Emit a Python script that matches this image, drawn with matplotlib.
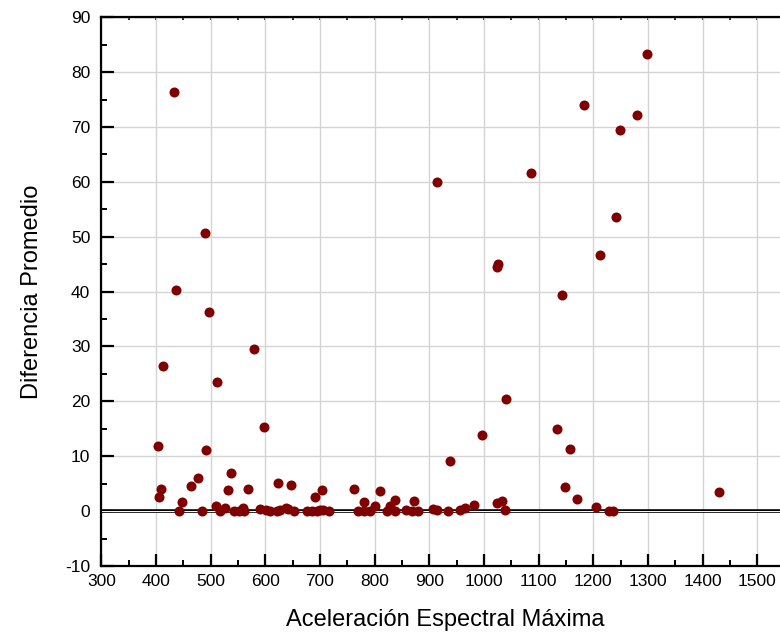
import matplotlib
matplotlib.use('Agg')
import matplotlib.pyplot as plt
from matplotlib.ticker import MultipleLocator

plt.rcParams['font.family'] = ['Liberation Sans', 'DejaVu Sans']
plt.rcParams['axes.unicode_minus'] = False

# Aceleracion espectral maxima (x) vs diferencia promedio (y)
acel = [433, 489, 437, 497, 580, 413, 512, 598, 404, 491, 537, 476, 464, 409, 405, 448,
        442, 485, 532, 568, 623, 647, 690, 704, 763, 781, 801, 810,
        510, 518, 526, 542, 551, 560, 561, 591, 602, 608, 621, 627, 638, 642, 653,
        676, 685, 694, 700, 706, 717, 770, 780, 791, 823, 829, 838, 837, 858, 872,
        868, 879, 907, 914, 935, 957, 966, 981, 915, 938, 997, 1023, 1025, 1024,
        1033, 1038, 1040, 1086, 1134, 1143, 1148, 1157, 1171, 1183, 1205, 1212,
        1228, 1236, 1241, 1248, 1280, 1298, 1430]
dif = [76.4, 50.6, 40.3, 36.2, 29.6, 26.5, 23.5, 15.3, 11.9, 11.2, 7.0, 6.0, 4.5, 4.0, 2.6, 1.7,
       0.0, 0.0, 3.9, 4.1, 5.2, 4.8, 2.6, 3.9, 4.0, 1.6, 0.9, 3.7,
       0.9, 0.05, 0.6, 0.0, 0.05, 0.55, 0.0, 0.45, 0.2, 0.0, 0.05, 0.2, 0.6, 0.4, 0.0,
       0.0, 0.0, 0.0, 0.2, 0.3, 0.0, 0.0, 0.0, 0.05, 0.0, 1.0, 2.1, 0.0, 0.25, 1.9,
       0.0, 0.0, 0.45, 0.25, 0.0, 0.3, 0.6, 1.15, 59.9, 9.1, 13.8, 44.4, 45.0, 1.55,
       1.85, 0.25, 20.5, 61.6, 14.9, 39.4, 4.45, 11.4, 2.25, 74.0, 0.75, 46.7,
       0.0, 0.0, 53.6, 69.4, 72.1, 83.2, 3.5]

fig = plt.figure(figsize=(7.8, 6.36), dpi=100)
ax = fig.add_axes([0.1299, 0.110, 0.883, 0.863])

ax.grid(True, color='#d4d4d4', lw=1.0)
ax.set_axisbelow(True)
ax.axhline(0, color='black', lw=2.6, zorder=1.5)
ax.axhline(0, color='white', lw=0.7, zorder=1.6)

ax.scatter(acel, dif, s=52, color='#800000', zorder=3, linewidths=0)

ax.set_xlim(300, 1560)
ax.set_ylim(-10, 90)
ax.xaxis.set_major_locator(MultipleLocator(100))
ax.xaxis.set_minor_locator(MultipleLocator(50))
ax.yaxis.set_major_locator(MultipleLocator(10))
ax.yaxis.set_minor_locator(MultipleLocator(5))

ax.tick_params(which='major', direction='in', length=9, width=1.6, labelsize=12.5,
               top=False, right=False)
ax.tick_params(which='minor', direction='in', length=4.5, width=1.4,
               top=False, right=False)
ax.tick_params(axis='x', pad=6)
ax.tick_params(axis='y', pad=8)

for side in ['left', 'bottom', 'top']:
    ax.spines[side].set_linewidth(1.6)
ax.spines['right'].set_visible(False)

top = ax.secondary_xaxis('top')
top.xaxis.set_major_locator(MultipleLocator(50))
top.tick_params(direction='in', length=2.5, width=1.2, labeltop=False)

ax.set_xlabel('Aceleración Espectral Máxima', fontsize=17, labelpad=14)
ax.set_ylabel('Diferencia Promedio', fontsize=17, labelpad=16)

fig.savefig('out.png', dpi=100)
